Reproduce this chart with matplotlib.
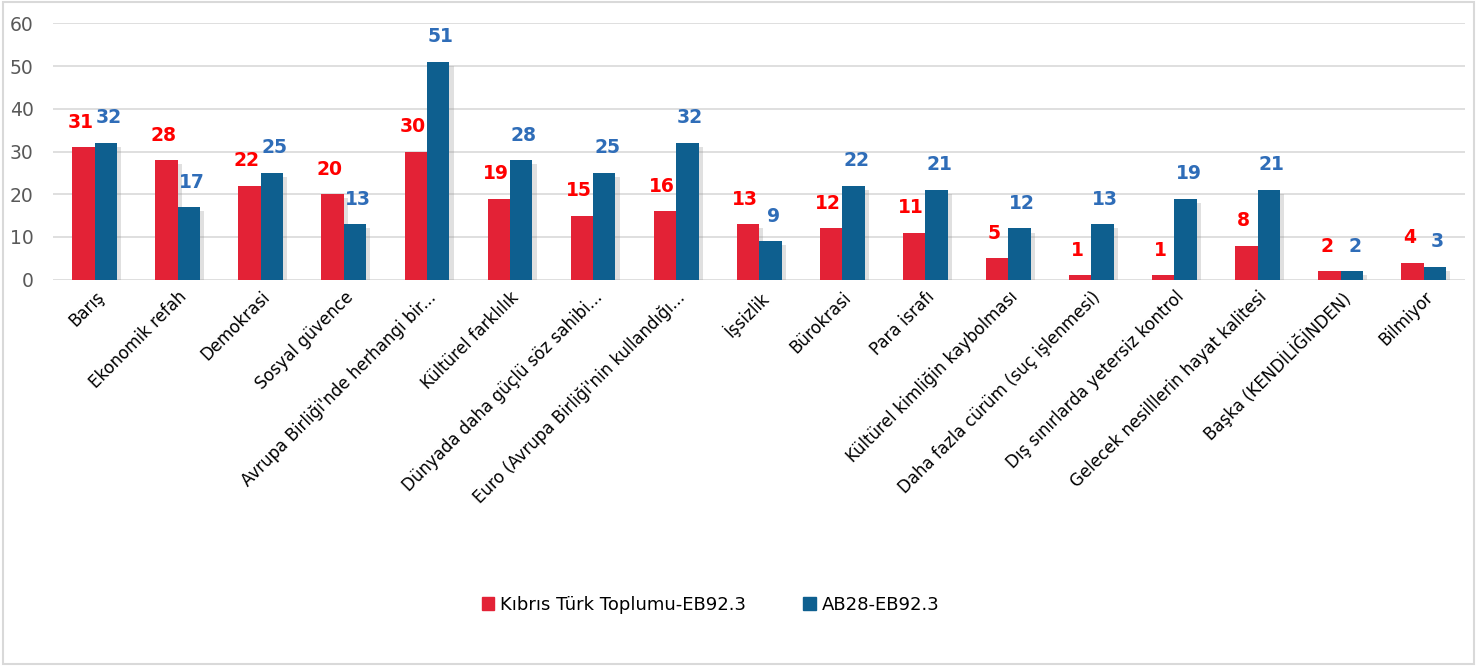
import numpy as np
import matplotlib
matplotlib.use("Agg")
import matplotlib.pyplot as plt
import matplotlib.patheffects as pe
from matplotlib.patches import Rectangle, Patch

# kategoriler ve değerler
categories = [
    "Barış", "Ekonomik refah", "Demokrasi", "Sosyal güvence",
    "Avrupa Birliği'nde herhangi bir...", "Kültürel farklılık",
    "Dünyada daha güçlü söz sahibi...", "Euro (Avrupa Birliği'nin kullandığı...",
    "İşsizlik", "Bürokrasi", "Para israfı", "Kültürel kimliğin kaybolması",
    "Daha fazla cürüm (suç işlenmesi)", "Dış sınırlarda yetersiz kontrol",
    "Gelecek nesilllerin hayat kalitesi", "Başka (KENDİLİĞİNDEN)", "Bilmiyor",
]
ktt = [31, 28, 22, 20, 30, 19, 15, 16, 13, 12, 11, 5, 1, 1, 8, 2, 4]
ab28 = [32, 17, 25, 13, 51, 28, 25, 32, 9, 22, 21, 12, 13, 19, 21, 2, 3]
series_names = ["Kıbrıs Türk Toplumu-EB92.3", "AB28-EB92.3"]

red = "#E32236"
blue = "#0E5F8F"
red_lbl = "#FF0000"
blue_lbl = "#2F6DB8"

fig = plt.figure(figsize=(14.77, 6.66), dpi=100)
ax = fig.add_axes([0.036, 0.58, 0.956, 0.385])

x = np.arange(len(categories))
w = 0.27
shadow = [pe.SimplePatchShadow(offset=(3, -3), shadow_rgbFace="#999999", alpha=0.3), pe.Normal()]

b1 = ax.bar(x - w / 2, ktt, w, color=red, zorder=3)
b2 = ax.bar(x + w / 2, ab28, w, color=blue, zorder=3)
for b in list(b1) + list(b2):
    b.set_path_effects(shadow)

for xi, v in zip(x, ktt):
    ax.annotate(str(v), (xi - w / 2, v), xytext=(-2, 18), textcoords="offset points",
                ha="center", va="center", color=red_lbl, fontsize=13.5, fontweight="bold")
for xi, v in zip(x, ab28):
    ax.annotate(str(v), (xi + w / 2, v), xytext=(2, 18), textcoords="offset points",
                ha="center", va="center", color=blue_lbl, fontsize=13.5, fontweight="bold")

ax.set_ylim(0, 60)
ax.set_xlim(-0.5, len(categories) - 0.5)
ax.set_yticks(range(0, 61, 10))
ax.tick_params(axis="y", labelsize=13.5, labelcolor="#595959", length=0, pad=14)
ax.tick_params(axis="x", length=0, pad=6)
ax.set_xticks(x)
ax.set_xticklabels(categories, rotation=45, ha="right", rotation_mode="anchor", fontsize=12)
ax.grid(axis="y", color="#D9D9D9", linewidth=1.2, zorder=0)
for s in ax.spines.values():
    s.set_visible(False)

handles = [Patch(color=red), Patch(color=blue)]
fig.legend(handles=handles, labels=series_names, loc="center", bbox_to_anchor=(0.481, 0.092),
           ncol=2, frameon=False, fontsize=13, handlelength=0.7, handleheight=0.7,
           handletextpad=0.3, columnspacing=3.2)

fig.patches.append(Rectangle((0.002, 0.003), 0.996, 0.994, transform=fig.transFigure,
                             fill=False, edgecolor="#D9D9D9", linewidth=1.5))

plt.savefig("out.png", dpi=100)
